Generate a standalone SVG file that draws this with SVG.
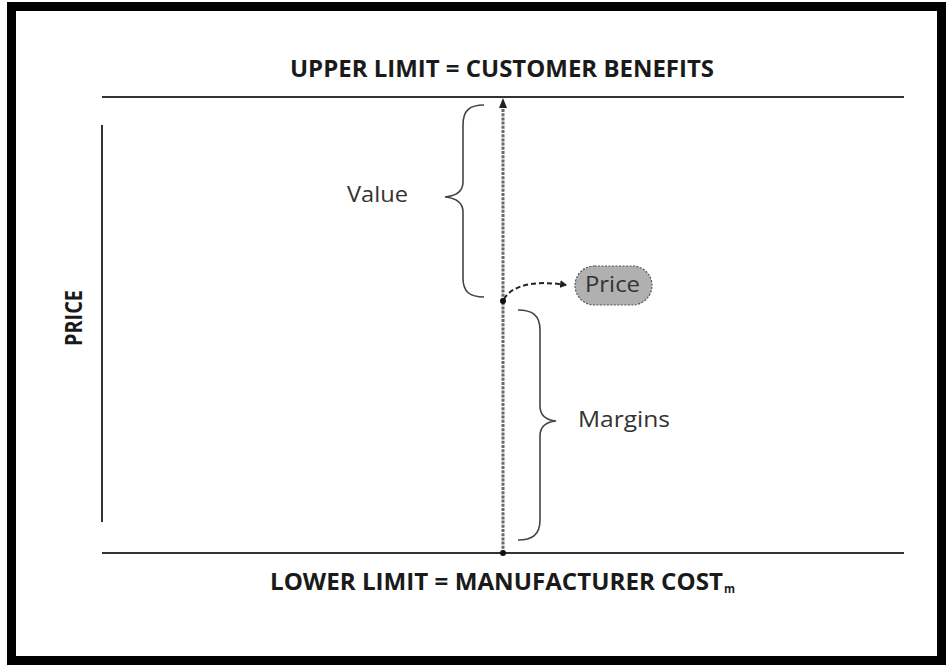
<svg xmlns="http://www.w3.org/2000/svg" width="946" height="665" viewBox="0 0 946 665">
  <style>
    .frame { fill: none; stroke: #000; stroke-width: 9; }
    .axis { stroke: #333; stroke-width: 2; fill: none; }
    .dotted { stroke: #6a6a6a; stroke-width: 3; stroke-dasharray: 3 1.2; fill: none; }
    .brace { stroke: #444; stroke-width: 1.6; fill: none; }
    .title { font-family: "Open Sans", "Liberation Sans", sans-serif; font-weight: bold; font-size: 24px; fill: #1a1a1a; }
    .sub { font-family: "Open Sans", "Liberation Sans", sans-serif; font-weight: bold; font-size: 12px; fill: #1a1a1a; }
    .label { font-family: "Open Sans", "Liberation Sans", sans-serif; font-size: 21px; fill: #333; }
    .dot { fill: #111; }
  </style>
  <defs>
    <marker id="head" markerWidth="8" markerHeight="8" refX="6" refY="4" orient="auto" markerUnits="userSpaceOnUse">
      <path d="M0,0 L7,4 L0,8 Z" fill="#222"/>
    </marker>
  </defs>

  <rect width="946" height="665" fill="#fff"/>
  <rect class="frame" x="11.5" y="6.5" width="930" height="654"/>

  <!-- limits and price axis -->
  <g id="axes">
    <line class="axis" x1="102" y1="97" x2="904" y2="97"/>
    <line class="axis" x1="102" y1="553" x2="904" y2="553"/>
    <line class="axis" x1="102" y1="125" x2="102" y2="522"/>
  </g>

  <g id="upper-limit">
    <text class="title" x="290" y="77" textLength="424" lengthAdjust="spacingAndGlyphs">UPPER LIMIT = CUSTOMER BENEFITS</text>
  </g>
  <g id="lower-limit">
    <text class="title" x="270" y="590" textLength="453" lengthAdjust="spacingAndGlyphs">LOWER LIMIT = MANUFACTURER COST</text>
    <text class="sub" x="724" y="593" textLength="11" lengthAdjust="spacingAndGlyphs">m</text>
  </g>
  <g id="price-axis-label">
    <text class="title" transform="translate(82,318) rotate(-90)" text-anchor="middle" textLength="56" lengthAdjust="spacingAndGlyphs">PRICE</text>
  </g>

  <g id="connectors">
    <line class="dotted" x1="503" y1="553" x2="503" y2="104"/>
    <path d="M499,108 L503,98 L507,108 Z" fill="#222"/>
    <path d="M504,299 C512,285 535,280 566,285" fill="none" stroke="#222" stroke-width="2" stroke-dasharray="5 3" marker-end="url(#head)"/>
    <circle class="dot" cx="503" cy="301" r="3"/>
    <circle class="dot" cx="503" cy="553" r="3"/>
  </g>

  <g id="value">
    <path class="brace" d="M484,105 C470,105 463,110 463,125 L463,182 C463,192 455,196 445,197 C455,198 463,202 463,212 L463,278 C463,292 470,297 484,297"/>
    <text class="label" x="347" y="202" textLength="61" lengthAdjust="spacingAndGlyphs">Value</text>
  </g>

  <g id="margins">
    <path class="brace" d="M518,310 C532,310 540,315 540,330 L540,406 C540,416 546,420 556,421 C546,422 540,426 540,436 L540,520 C540,535 532,540 518,540"/>
    <text class="label" x="578" y="427" textLength="92" lengthAdjust="spacingAndGlyphs">Margins</text>
  </g>

  <g id="price">
    <rect x="575" y="266" width="77" height="39" rx="19.5" fill="#b0b0b0" stroke="#555" stroke-width="1.2" stroke-dasharray="2 1.5"/>
    <text class="label" x="585" y="292" textLength="55" lengthAdjust="spacingAndGlyphs" fill="#222">Price</text>
  </g>
</svg>
